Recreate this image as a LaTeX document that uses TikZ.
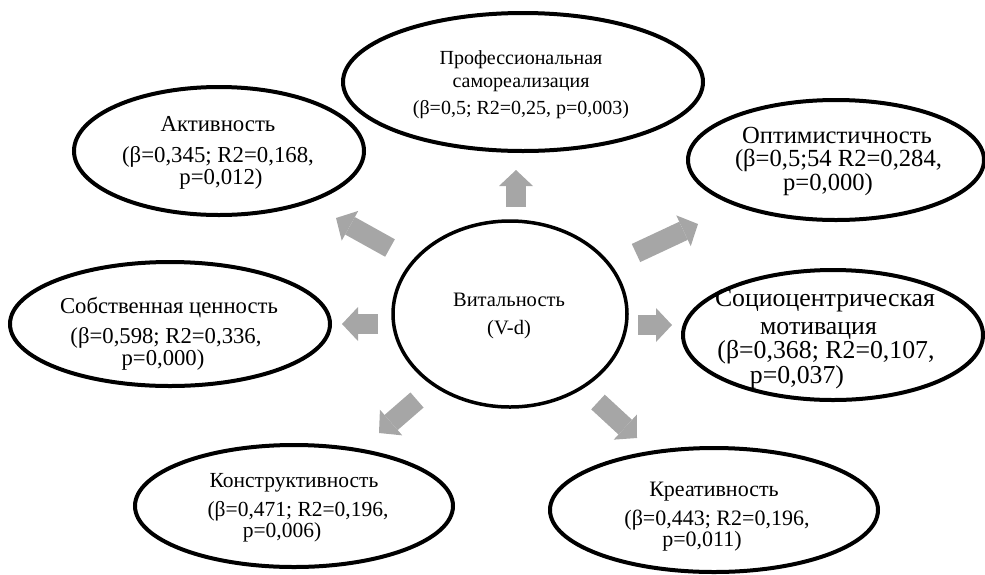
\documentclass[tikz,border=0pt]{standalone}
\usepackage{fontspec}
\setmainfont{Liberation Serif}
\usetikzlibrary{shapes.geometric,arrows.meta}
\definecolor{arrowgray}{HTML}{A6A6A6}
% move one centred line sideways by #1
\newcommand{\shiftln}[2]{\hspace*{#1}#2\hspace*{-#1}}
\begin{document}
\begin{tikzpicture}[x=1pt,y=-1pt,
  factor/.style={draw=black,line width=4pt,ellipse,inner sep=0pt},
  txt/.style={align=center,inner sep=0pt},
  link/.style={draw=arrowgray,line width=20pt,
    -{Triangle[width=34pt,length=16pt,line width=0pt]}}]
\useasboundingbox (0,0) rectangle (985,574);

% central factor
\node[factor,line width=3.5pt,minimum width=234pt,minimum height=186pt] (vit) at (510,314) {};
\node[txt,font=\fontsize{20.5}{28}\selectfont] (vit-t) at (509,316) {Витальность\\(V-d)};

% surrounding factors
\node[factor,minimum width=360pt,minimum height=138pt] (prof) at (523,82) {};
\node[txt,font=\fontsize{20}{23}\selectfont] (prof-t) at (521,85)
  {Профессиональная\\самореализация\\[4pt](β=0,5; R2=0,25, p=0,003)};

\node[factor,minimum width=290pt,minimum height=128pt] (akt) at (219,151) {};
\node[txt,font=\fontsize{22.8}{22}\selectfont] (akt-t) at (218,153)
  {Активность\\[9pt](β=0,345; R2=0,168,\\\shiftln{3pt}{p=0,012)}};

\node[factor,minimum width=296pt,minimum height=120pt] (opt) at (836,160) {};
\node[txt,font=\fontsize{24.6}{23.5}\selectfont] (opt-t) at (837,161)
  {Оптимистичность\\\shiftln{3pt}{(β=0,5;54 R2=0,284,}\\\shiftln{-9pt}{p=0,000)}};

\node[factor,minimum width=320pt,minimum height=124pt] (sob) at (170,324) {};
\node[txt,font=\fontsize{22.7}{22}\selectfont] (sob-t) at (166,334)
  {\shiftln{3pt}{Собственная ценность}\\[8pt](β=0,598; R2=0,336,\\\shiftln{-3pt}{p=0,000)}};

\node[factor,minimum width=300pt,minimum height=130pt] (soc) at (833,335) {};
\node[txt,font=\fontsize{25.8}{22.5}\selectfont] (soc-t) at (822,339)
  {\shiftln{3pt}{Социоцентрическая}\\[6pt]\shiftln{-7pt}{мотивация}\\
   \shiftln{8pt}{(β=0,368; R2=0,107,}\\\shiftln{-25pt}{p=0,037)}};

\node[factor,minimum width=318pt,minimum height=122pt] (kon) at (294,506) {};
\node[txt,font=\fontsize{21.5}{21}\selectfont] (kon-t) at (294,508)
  {Конструктивность\\[8pt]\shiftln{8pt}{(β=0,471; R2=0,196,}\\\shiftln{-12pt}{p=0,006)}};

\node[factor,minimum width=328pt,minimum height=124pt] (kre) at (714,510) {};
\node[txt,font=\fontsize{22}{21}\selectfont] (kre-t) at (714,517)
  {Креативность\\[8pt]\shiftln{6pt}{(β=0,443; R2=0,196,}\\\shiftln{-12pt}{p=0,011)}};

% arrow ends
\coordinate (a1s) at (516,207); \coordinate (a1e) at (516,170);
\coordinate (a2s) at (390,248); \coordinate (a2e) at (336,218);
\coordinate (a3s) at (378,324); \coordinate (a3e) at (342,324);
\coordinate (a4s) at (636,253); \coordinate (a4e) at (698,224);
\coordinate (a5s) at (638,325); \coordinate (a5e) at (672,325);
\coordinate (a6s) at (417,400); \coordinate (a6e) at (379,433);
\coordinate (a7s) at (598,402); \coordinate (a7e) at (637,438);

\draw[link] (a1s) -- (a1e);
\draw[link] (a2s) -- (a2e);
\draw[link] (a3s) -- (a3e);
\draw[link] (a4s) -- (a4e);
\draw[link] (a5s) -- (a5e);
\draw[link] (a6s) -- (a6e);
\draw[link] (a7s) -- (a7e);
\end{tikzpicture}
\end{document}
